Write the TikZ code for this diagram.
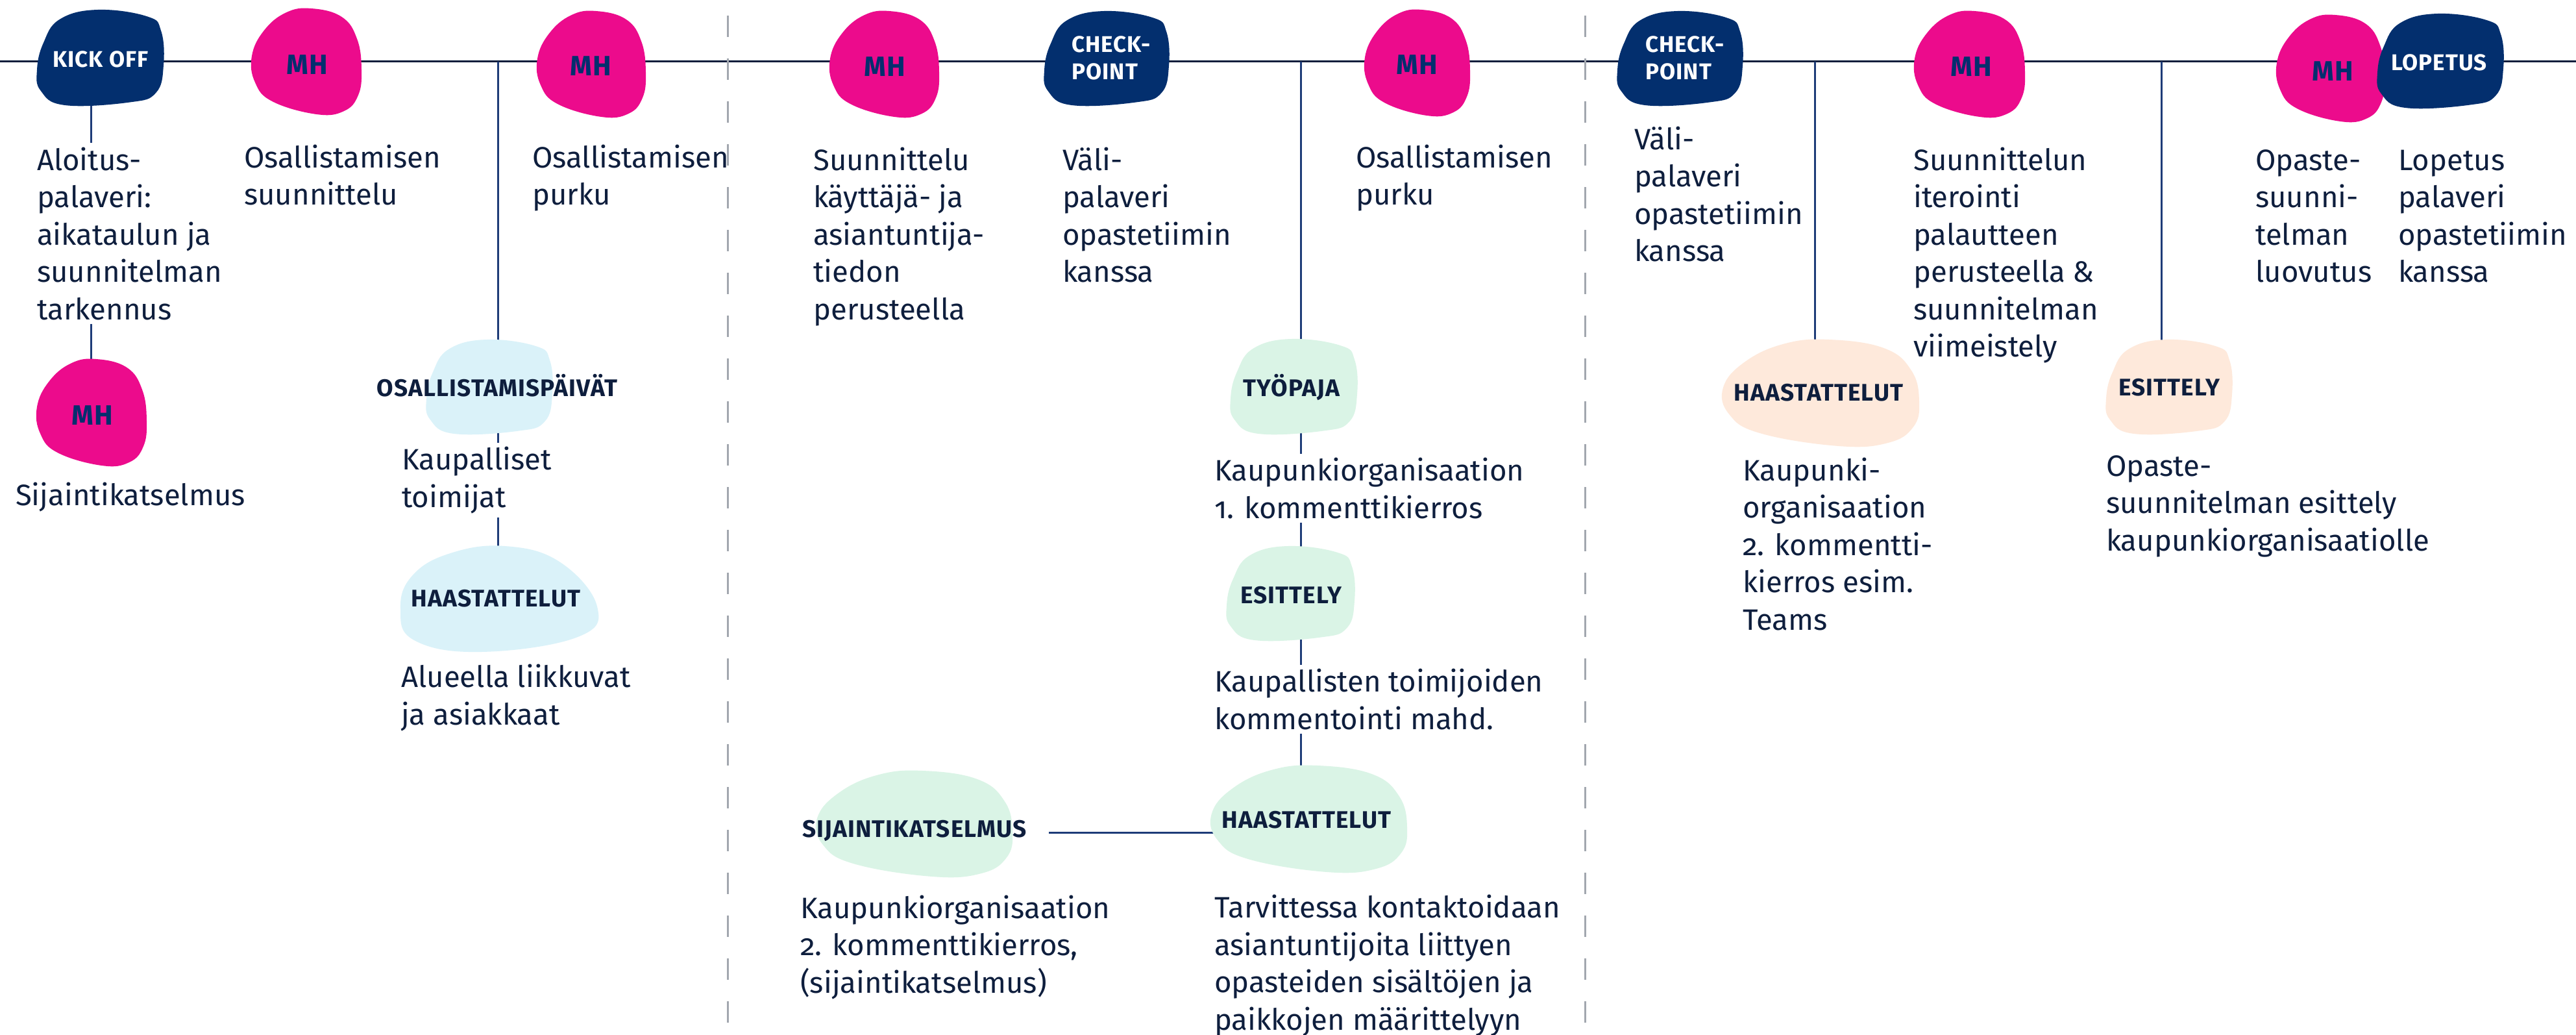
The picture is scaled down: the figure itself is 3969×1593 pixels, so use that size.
\documentclass[tikz,border=0pt]{standalone}
\usepackage{fontspec}
\setmainfont{Fira Sans}[Numbers=OldStyle]
\newfontfamily\labfont{Fira Sans}[LetterSpace=3.0]
\usetikzlibrary{calc}
\definecolor{hnavy}{HTML}{032F6E}
\definecolor{mhpink}{HTML}{EC0B8C}
\definecolor{lblue}{HTML}{DAF2F9}
\definecolor{lgreen}{HTML}{DAF4E6}
\definecolor{peach}{HTML}{FEE9DB}
\definecolor{txtc}{HTML}{0E1E3D}
\definecolor{conc}{HTML}{1E3C78}
\definecolor{dashc}{HTML}{A2A7AF}
\pgfdeclarelayer{bg}\pgfsetlayers{bg,main}
\def\shapesq{plot[smooth cycle,tension=0.7] coordinates {(0.48,0) (0.87,0.07) (0.98,0.22) (1,0.58) (0.94,0.87) (0.73,0.97) (0.22,1) (0.03,0.85) (0,0.63) (0.05,0.35) (0.18,0.1)}}
\def\shapeeg{plot[smooth cycle,tension=0.7] coordinates {(0.54,0) (0.82,0.08) (0.96,0.29) (1,0.58) (0.97,0.82) (0.84,0.97) (0.59,1) (0.19,0.88) (0.03,0.7) (0,0.45) (0.11,0.21) (0.31,0.04)}}
\def\shapewd{plot[smooth cycle,tension=0.7] coordinates {(0.53,0) (0.81,0.15) (1,0.57) (0.9,0.86) (0.41,1) (0.07,0.89) (0,0.59) (0.06,0.28) (0.25,0.07)}}
\newcommand\blob[7]{%
  \pgfmathsetmacro\bw{#6-#4}\pgfmathsetmacro\bh{#7-#5}%
  \begin{scope}[shift={(#4,#5)}, x=\bw pt, y=-\bh pt]
    \fill[#3] #2;
    \node[inner sep=0pt, outer sep=0pt, minimum width=\bw pt, minimum height=\bh pt] (#1) at (0.5,0.5) {};
  \end{scope}}
\tikzset{
  txt/.style={anchor=base west, align=left, inner xsep=0pt, inner ysep=6pt, text=txtc, font={\fontsize{45.5}{57.5}\selectfont}},
  lab/.style={anchor=base, inner sep=0pt, text=txtc, font={\labfont\fontsize{37}{42}\selectfont\bfseries}},
  wlab/.style={anchor=base, inner sep=0pt, text=white, font={\labfont\fontsize{35}{42}\selectfont\bfseries}},
  mhlab/.style={anchor=center, inner sep=0pt, text=hnavy, font={\labfont\fontsize{43}{46}\selectfont\bfseries}},
  tline/.style={draw=txtc, line width=3pt},
  conn/.style={draw=conc, line width=3pt},
  sepline/.style={draw=dashc, line width=3pt, dash pattern=on 33pt off 33pt},
}
\begin{document}
\begin{tikzpicture}[x=1pt,y=-1pt]
\useasboundingbox (0,0) rectangle (3969,1593);
% blobs
\blob{kickoff}{\shapesq}{hnavy}{57}{15}{252}{162}
\blob{mha}{\shapeeg}{mhpink}{388}{13}{557}{176}
\blob{mhb}{\shapeeg}{mhpink}{828}{17}{995}{180}
\blob{mhc}{\shapeeg}{mhpink}{57}{553}{226}{717}
\blob{opd}{\shapesq}{lblue}{657}{523}{851}{668}
\blob{bhaast}{\shapewd}{lblue}{617}{841}{920}{1004}
\blob{mhd}{\shapeeg}{mhpink}{1279}{17}{1447}{180}
\blob{cpa}{\shapesq}{hnavy}{1609}{17}{1801}{162}
\blob{mhe}{\shapeeg}{mhpink}{2103}{15}{2265}{178}
\blob{tyo}{\shapesq}{lgreen}{1896}{522}{2091}{668}
\blob{gesit}{\shapesq}{lgreen}{1890}{841}{2087}{986}
\blob{ghaast}{\shapeeg}{lgreen}{1867}{1179}{2168}{1343}
\blob{gsij}{\shapeeg}{lgreen}{1259}{1187}{1560}{1350}
\blob{cpb}{\shapesq}{hnavy}{2492}{17}{2685}{162}
\blob{mhf}{\shapeeg}{mhpink}{2950}{17}{3120}{180}
\blob{phaast}{\shapeeg}{peach}{2655}{523}{2957}{687}
\blob{pesit}{\shapesq}{peach}{3245}{523}{3439}{668}
\blob{mhg}{\shapeeg}{mhpink}{3508}{23}{3674}{187}
\blob{lop}{\shapesq}{hnavy}{3663}{21}{3857}{166}
% blob labels
\node[wlab] (kolab) at (155,103) {KICK OFF};
\node[mhlab] (mhalab) at (473,100) {MH};
\node[mhlab] (mhblab) at (910,102) {MH};
\node[mhlab] (mhclab) at (142,640) {MH};
\node[lab] (opdlab) at (766,610) {OSALLISTAMISPÄIVÄT};
\node[lab] (bhlab) at (764,934) {HAASTATTELUT};
\node[mhlab] (mhdlab) at (1363,103) {MH};
\node[wlab, anchor=base west, align=left] (cpalab) at (1651,122) {CHECK-\\POINT};
\node[mhlab] (mhelab) at (2183,100) {MH};
\node[lab] (tyolab) at (1990,610) {TYÖPAJA};
\node[lab] (gesitlab) at (1989,929) {ESITTELY};
\node[lab] (ghlab) at (2013,1275) {HAASTATTELUT};
\node[lab] (gsijlab) at (1409,1289) {SIJAINTIKATSELMUS};
\node[wlab, anchor=base west, align=left] (cpblab) at (2535,122) {CHECK-\\POINT};
\node[mhlab] (mhflab) at (3037,103) {MH};
\node[lab] (phlab) at (2802,617) {HAASTATTELUT};
\node[lab] (peslab) at (3342,609) {ESITTELY};
\node[mhlab] (mhglab) at (3594,110) {MH};
\node[wlab] (loplab) at (3758,108) {LOPETUS};
% texts (anchor = baseline of the last line)
\node[txt] (kotext) at (57,492) {Aloitus-\\palaveri:\\aikataulun ja\\suunnitelman\\tarkennus};
\node[txt] (sijtext) at (24,778) {Sijaintikatselmus};
\node[txt] (osuun) at (376,315.5) {Osallistamisen\\suunnittelu};
\node[txt] (ospurka) at (820,315.5) {Osallistamisen\\purku};
\node[txt] (kptext) at (619,781) {Kaupalliset\\toimijat};
\node[txt] (aluetext) at (618,1116) {Alueella liikkuvat\\ja asiakkaat};
\node[txt] (suuntext) at (1253,492) {Suunnittelu\\käyttäjä- ja\\asiantuntija-\\tiedon\\perusteella};
\node[txt] (valia) at (1637,434.5) {Väli-\\palaveri\\opastetiimin\\kanssa};
\node[txt] (ospurkb) at (2089,315.5) {Osallistamisen\\purku};
\node[txt] (komatext) at (1871,798) {Kaupunkiorganisaation\\1. kommenttikierros};
\node[txt] (kaupt) at (1871,1123) {Kaupallisten toimijoiden\\kommentointi mahd.};
\node[txt] (kombtext) at (1233,1529) {Kaupunkiorganisaation\\2. kommenttikierros,\\(sijaintikatselmus)};
\node[txt] (tarvtext) at (1871,1586) {Tarvittessa kontaktoidaan\\asiantuntijoita liittyen\\opasteiden sisältöjen ja\\paikkojen määrittelyyn};
\node[txt] (valib) at (2518,402.5) {Väli-\\palaveri\\opastetiimin\\kanssa};
\node[txt] (iter) at (2948,549.5) {Suunnittelun\\iterointi\\palautteen\\perusteella \&\\suunnitelman\\viimeistely};
\node[txt] (opluov) at (3475,434.5) {Opaste-\\suunni-\\telman\\luovutus};
\node[txt] (loptext) at (3695,434.5) {Lopetus\\palaveri\\opastetiimin\\kanssa};
\node[txt] (komctext) at (2685,970) {Kaupunki-\\organisaation\\2. kommentti-\\kierros esim.\\Teams};
\node[txt] (opesit) at (3245,848) {Opaste-\\suunnitelman esittely\\kaupunkiorganisaatiolle};
% background: timeline, separators, connectors
\begin{pgfonlayer}{bg}
\fill[white] (0,0) rectangle (3969,1593);
\coordinate (tlL) at (0,94.5);
\coordinate (tlR) at (3969,94.5);
\draw[tline] (tlL) -- (tlR);
\coordinate (da) at (1121,24);
\coordinate (dab) at (1121,1593);
\coordinate (db) at (2442,24);
\coordinate (dbb) at (2442,1593);
\draw[sepline] (da) -- (dab);
\draw[sepline] (db) -- (dbb);
\coordinate (vk) at (140,94.5);
\draw[conn] (vk |- kickoff.center) -- (vk |- kotext.north);
\draw[conn] (vk |- kotext.south) -- (vk |- mhc.center);
\coordinate (va) at (767,94.5);
\draw[conn] (va) -- (va |- opd.center);
\draw[conn] (va |- opd.center) -- (va |- kptext.north);
\draw[conn] (va |- kptext.south) -- (va |- bhaast.center);
\coordinate (vb) at (2004,94.5);
\draw[conn] (vb) -- (vb |- tyo.center);
\draw[conn] (vb |- tyo.center) -- (vb |- komatext.north);
\draw[conn] (vb |- komatext.south) -- (vb |- gesit.center);
\draw[conn] (vb |- gesit.center) -- (vb |- kaupt.north);
\draw[conn] (vb |- kaupt.south) -- (vb |- ghaast.center);
\coordinate (hz) at (1616,1282);
\draw[conn] (hz) -- (hz -| ghaast.center);
\coordinate (vc) at (2796,94.5);
\draw[conn] (vc) -- (vc |- phaast.center);
\coordinate (vd) at (3330,94.5);
\draw[conn] (vd) -- (vd |- pesit.center);
\end{pgfonlayer}
\end{tikzpicture}
\end{document}
